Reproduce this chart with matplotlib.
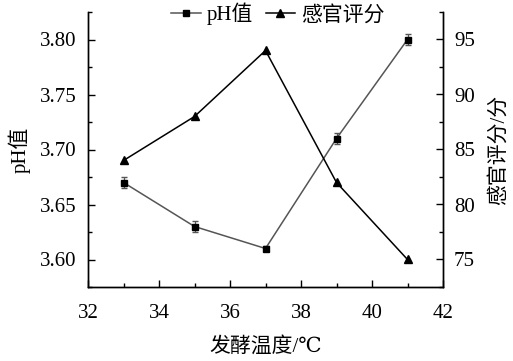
import numpy as np
import matplotlib.pyplot as plt
from matplotlib.ticker import MultipleLocator
from matplotlib.lines import Line2D

plt.rcParams['font.family'] = ['Liberation Serif', 'DejaVu Serif', 'Noto Sans CJK SC']
plt.rcParams['axes.unicode_minus'] = False

# 数据
temp = [33, 35, 37, 39, 41]
ph = [3.67, 3.63, 3.61, 3.71, 3.80]
ph_err = [0.005, 0.005, 0.002, 0.005, 0.005]
score = [84, 88, 94, 82, 75]

fig = plt.figure(figsize=(5.13, 3.61), dpi=100)
ax = fig.add_axes([88 / 513, 1 - 287 / 361, (443 - 88) / 513, (287 - 12) / 361])
ax2 = ax.twinx()

ax.errorbar(temp, ph, yerr=ph_err, color='#555555', lw=1.1, marker='s', ms=5,
            mfc='black', mec='black', ecolor='#555555', elinewidth=0.9,
            capsize=2.5)
ax2.plot(temp, score, color='black', lw=1.1, marker='^', ms=6)

ax.set_xlim(32, 42)
ax.set_ylim(3.575, 3.825)
ax2.set_ylim(72.5, 97.5)
ax.set_xticks([32, 34, 36, 38, 40, 42])
ax.set_yticks([3.60, 3.65, 3.70, 3.75, 3.80])
ax.set_yticklabels(['3.60', '3.65', '3.70', '3.75', '3.80'])
ax2.set_yticks([75, 80, 85, 90, 95])
ax.xaxis.set_minor_locator(MultipleLocator(1))
ax.yaxis.set_minor_locator(MultipleLocator(0.025))
ax2.yaxis.set_minor_locator(MultipleLocator(2.5))

for a in (ax, ax2):
    a.spines['top'].set_visible(False)
    for s in a.spines.values():
        s.set_linewidth(1.0)
    a.tick_params(which='major', direction='in', length=5, width=1, labelsize=15)
    a.tick_params(which='minor', direction='in', length=3, width=1)
ax.tick_params(axis='y', which='both', right=False)
ax.tick_params(axis='x', pad=12)
ax.tick_params(axis='y', pad=8)
ax2.tick_params(axis='y', pad=8)

ax.set_xlabel('发酵温度/℃', fontsize=15, labelpad=10)
ax.set_ylabel('pH值', fontsize=15, labelpad=7)
ax2.set_ylabel('感官评分/分', fontsize=15, labelpad=10)

h1 = Line2D([], [], color='#555555', lw=1.1, marker='s', ms=5, mfc='black', mec='black')
h2 = Line2D([], [], color='black', lw=1.1, marker='^', ms=6)
fig.legend([h1, h2], ['pH值', '感官评分'], loc='center', bbox_to_anchor=(278 / 513, 1 - 14 / 361),
           ncol=2, frameon=False, fontsize=15, handlelength=1.4, handletextpad=0.3,
           columnspacing=0.6, borderpad=0)

fig.savefig('out.png', dpi=100)
